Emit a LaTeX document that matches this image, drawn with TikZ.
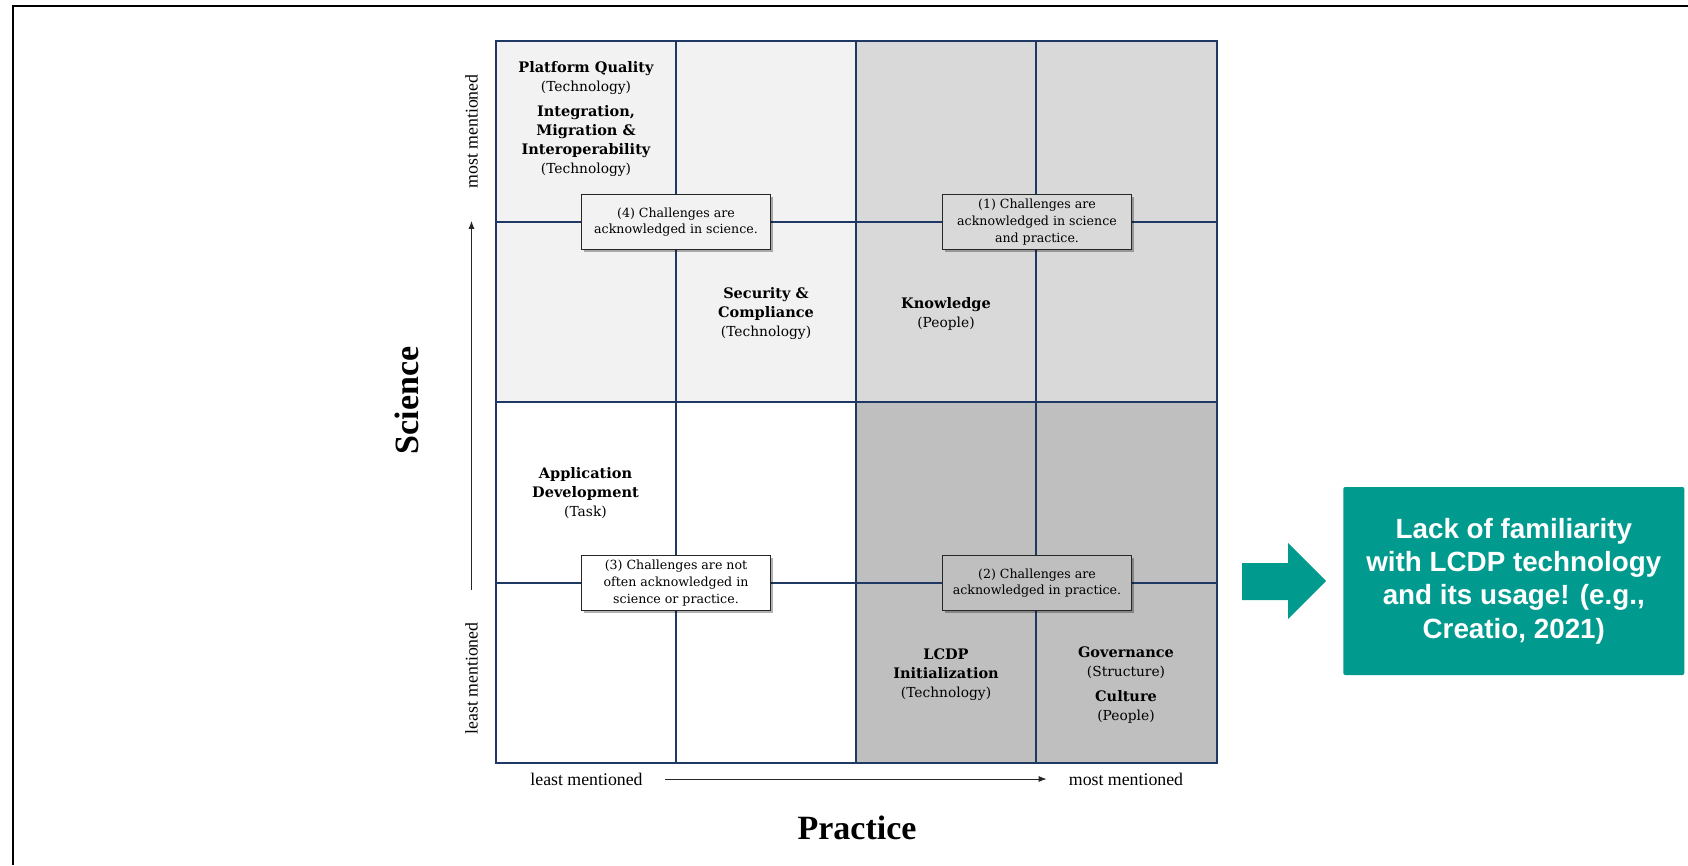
\documentclass[tikz,border=0pt]{standalone}
\usepackage{fontspec}
\setmainfont{DejaVu Serif}
\newfontfamily\axisfont{Liberation Serif}
\newfontfamily\boxfont{Liberation Sans}
\usetikzlibrary{shadows,arrows.meta}
\definecolor{gridblue}{RGB}{32,56,100}
\definecolor{cellA}{RGB}{242,242,242}
\definecolor{cellB}{RGB}{217,217,217}
\definecolor{cellC}{RGB}{191,191,191}
\definecolor{tealc}{RGB}{0,155,142}
\newcommand\hd[1]{{\fontsize{14.5}{19}\selectfont\bfseries #1}}
\tikzset{
  gridline/.style={draw=gridblue, line width=1.3pt},
  callout/.style={draw=black!85, line width=1.2pt, minimum width=189pt, minimum height=55pt,
    align=center, inner sep=2pt, font=\fontsize{12.6}{16.7}\selectfont,
    drop shadow={opacity=0.3, fill=black, shadow xshift=2.5pt, shadow yshift=-2.5pt}},
  lbl/.style={align=center, inner sep=0pt, font=\fontsize{13.8}{19}\selectfont},
  axislbl/.style={inner sep=0pt, font=\axisfont\fontsize{17.8}{20}\selectfont},
  axistitle/.style={inner sep=0pt, font=\axisfont\bfseries\fontsize{34}{40}\selectfont},
  axisarrow/.style={-{Latex[length=8pt,width=6pt]}, line width=1pt, draw=black!85},
}
\begin{document}
\begin{tikzpicture}[x=1pt,y=-1pt]
\useasboundingbox (0,0) rectangle (1688,865);
\fill[white] (0,0) rectangle (1688,865);
% frame
\draw[line width=2.5pt] (13,865) -- (13,6) -- (1688,6);
% cells
\fill[cellA] (496,41) rectangle (856,402);
\fill[cellB] (856,41) rectangle (1217,402);
\fill[cellC] (856,402) rectangle (1217,763);
% grid
\draw[gridline] (496,41) rectangle (1217,763);
\foreach \x in {676,856,1036} \draw[gridline] (\x,41) -- (\x,763);
\foreach \y in {222,402,583} \draw[gridline] (496,\y) -- (1217,\y);
% callouts
\node[callout, fill=cellA] (c4) at (676,222) {(4) Challenges are\\acknowledged in science.};
\node[callout, fill=cellB] (c1) at (1037,222) {(1) Challenges are\\acknowledged in science\\and practice.};
\node[callout, fill=white] (c3) at (676,583) {(3) Challenges are not\\often acknowledged in\\science or practice.};
\node[callout, fill=cellC] (c2) at (1037,583) {(2) Challenges are\\acknowledged in practice.};
% cell labels
\node[lbl] (pq) at (586,78) {\hd{Platform Quality}\\(Technology)};
\node[lbl] (imi) at (586,141) {\hd{Integration,}\\\hd{Migration \&}\\\hd{Interoperability}\\(Technology)};
\node[lbl] (sec) at (766,313.5) {\hd{Security \&}\\\hd{Compliance}\\(Technology)};
\node[lbl] (kn) at (946,314) {\hd{Knowledge}\\(People)};
\node[lbl] (app) at (585.5,493.5) {\hd{Application}\\\hd{Development}\\(Task)};
\node[lbl] (lcdp) at (946,675) {\hd{LCDP}\\\hd{Initialization}\\(Technology)};
\node[lbl] (gov) at (1126,663) {\hd{Governance}\\(Structure)};
\node[lbl] (cul) at (1126,706.5) {\hd{Culture}\\(People)};
% axes
\node[axislbl] (xl) at (586.5,779) {least mentioned};
\node[axislbl] (xm) at (1126,779) {most mentioned};
\draw[axisarrow, shorten <=22pt, shorten >=22pt] (xl.east) -- (xm.west);
\node[axislbl, rotate=90] (yl) at (471.5,678.5) {least mentioned};
\node[axislbl, rotate=90] (ym) at (471.5,131.5) {most mentioned};
\draw[axisarrow, shorten <=32pt, shorten >=32pt] (yl.east) -- (ym.west);
\node[axistitle, rotate=90] (sci) at (407,400.5) {Science};
\node[axistitle] (pra) at (857,828) {Practice};
% teal arrow and box
\fill[tealc] (1242,563) -- (1288,563) -- (1288,543) -- (1326,581) -- (1288,619) -- (1288,600) -- (1242,600) -- cycle;
\node[fill=tealc, rounded corners=2pt, minimum width=341pt, minimum height=188pt, text=white,
  font=\boxfont\fontsize{27.8}{33.3}\selectfont\bfseries, align=center, inner sep=0pt] (lack) at (1513.8,581)
  {Lack of familiarity\\with LCDP technology\\and its usage! (e.g.,\\Creatio, 2021)};
\end{tikzpicture}
\end{document}
